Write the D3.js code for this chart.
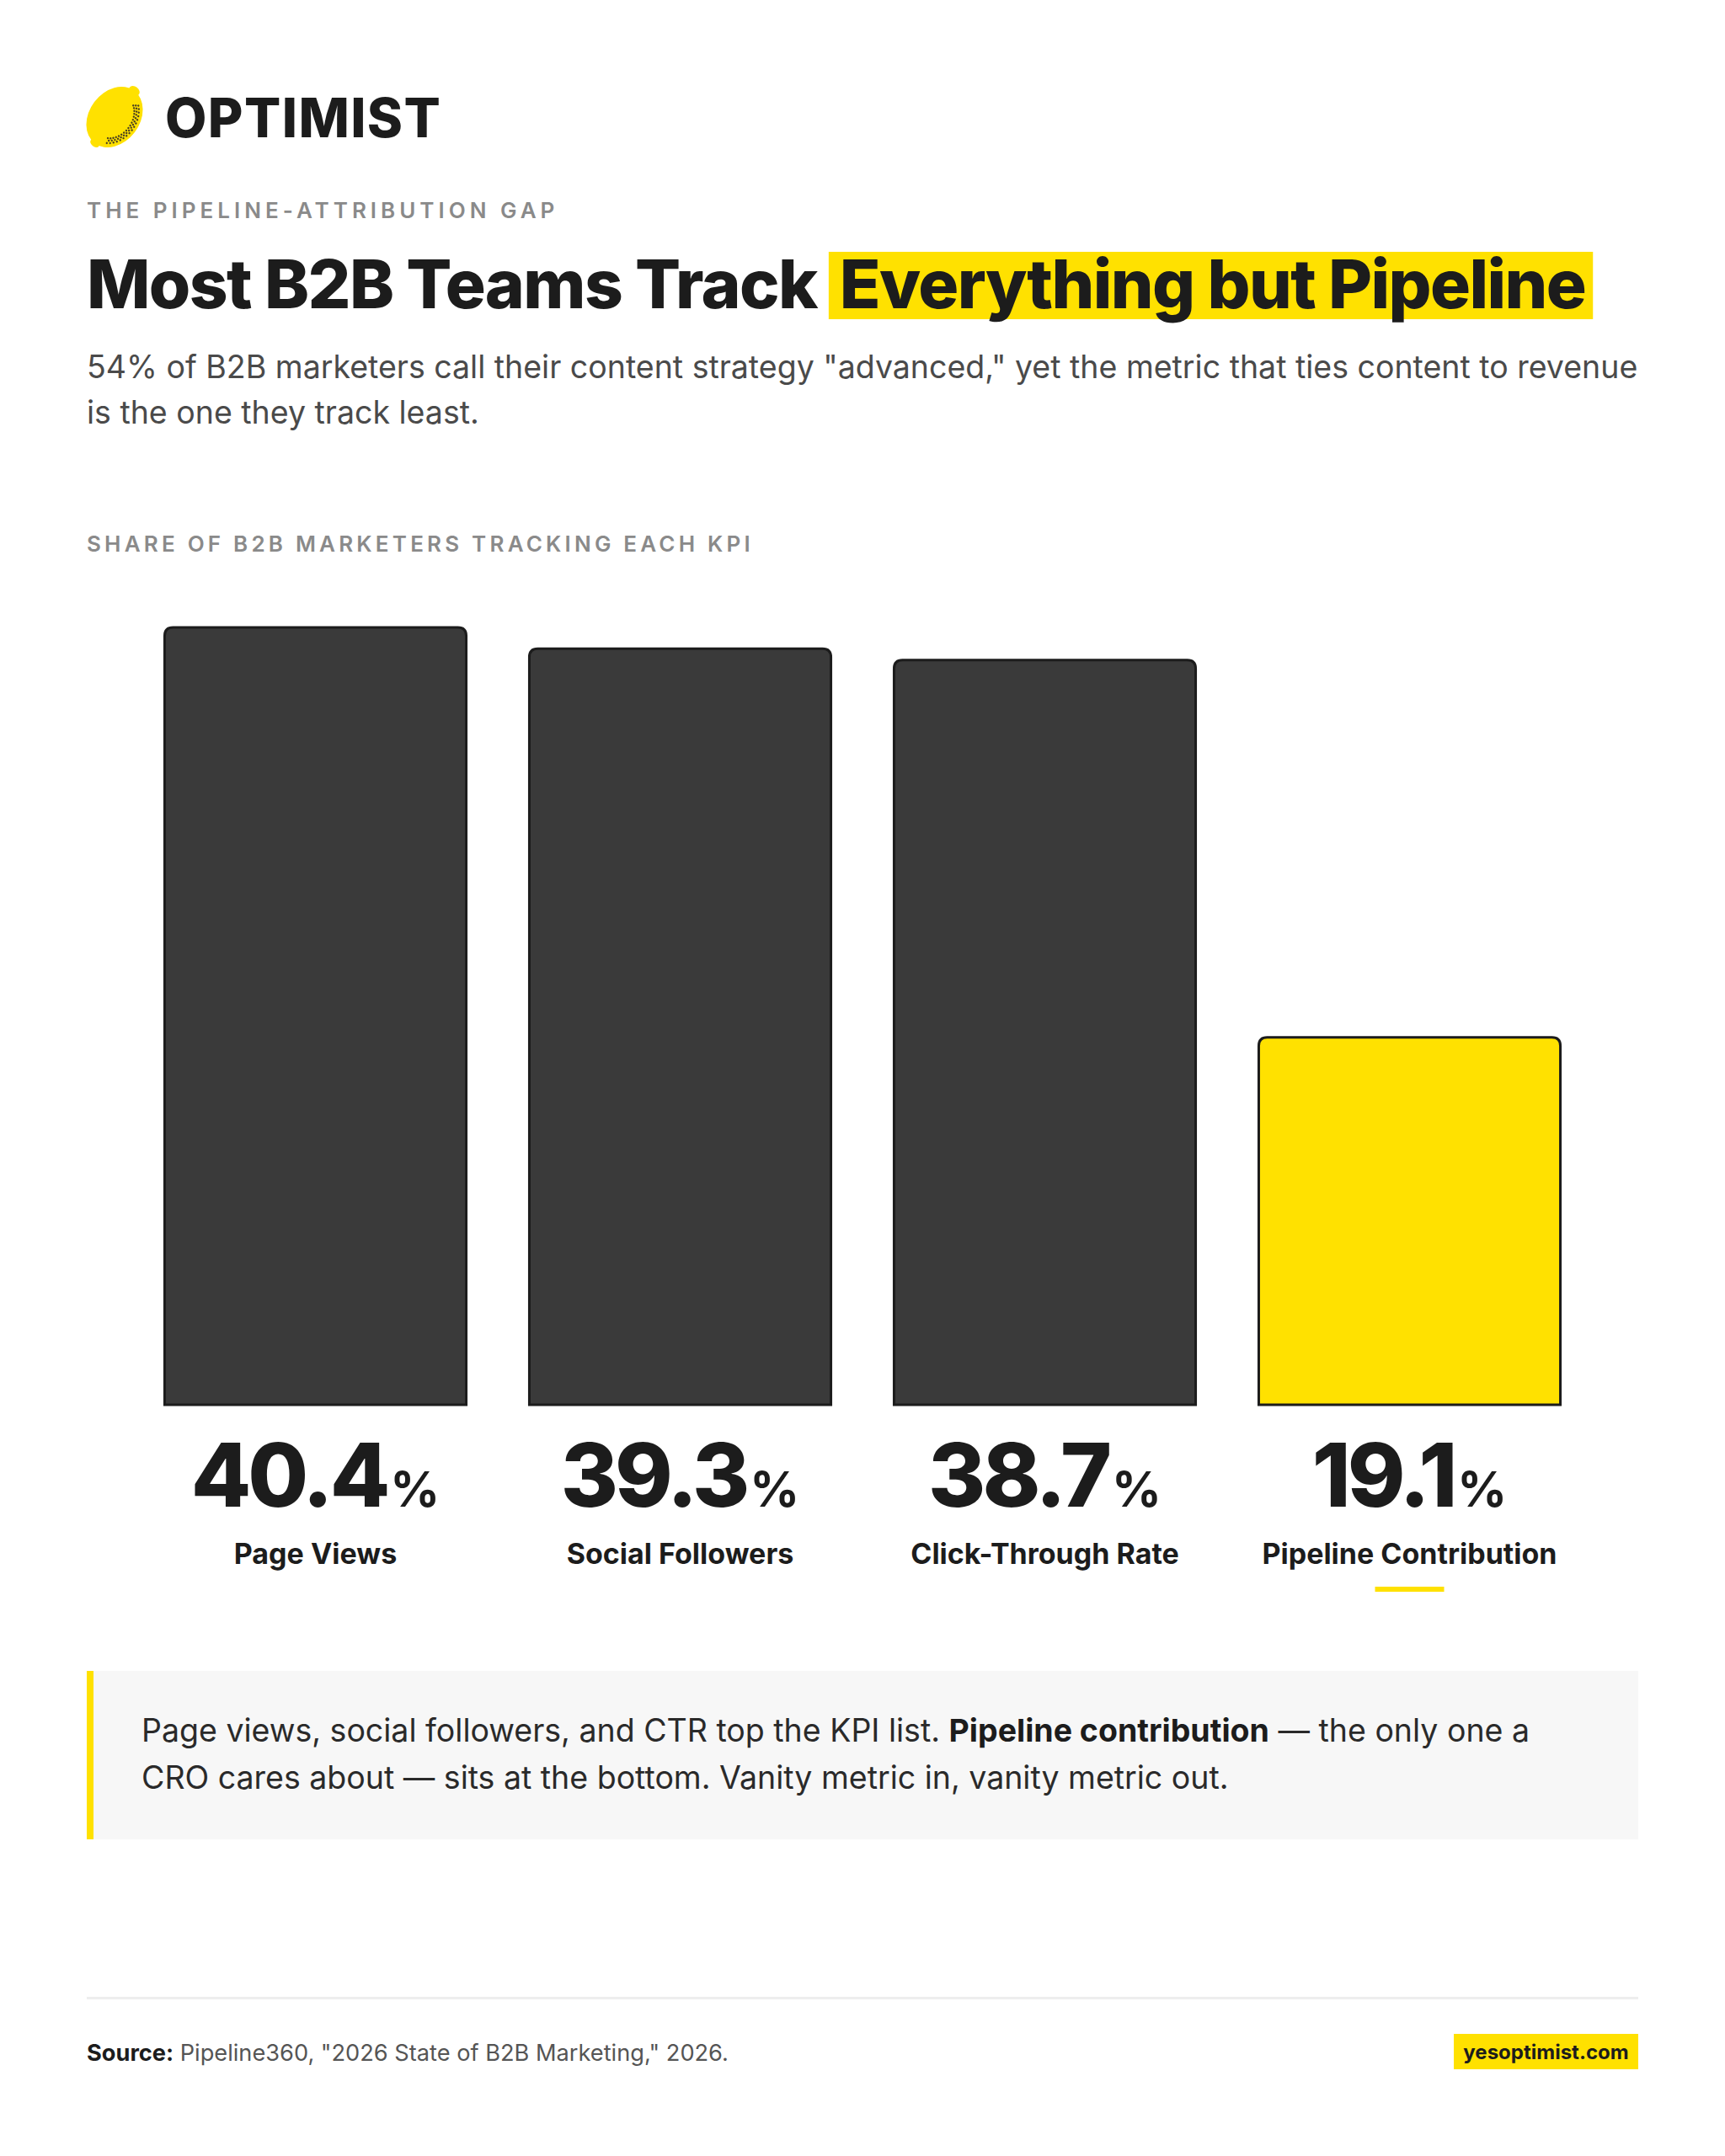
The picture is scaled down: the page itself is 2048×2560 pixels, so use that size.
<!DOCTYPE html>
<html>
<head>
<meta charset="utf-8">
<script src="https://cdn.jsdelivr.net/npm/d3@7"></script>
<style>
  body { margin: 0; background: #fff; }
  svg { display: block; font-family: Inter, "Noto Sans", sans-serif; }
</style>
</head>
<body>
<svg id="drawing_region"></svg>
<script>
// chart data
const categories = ["Page Views", "Social Followers", "Click-Through Rate", "Pipeline Contribution"];
const values = [40.4, 39.3, 38.7, 19.1];
const highlighted = ["Pipeline Contribution"];

const W = 2048, H = 2560;
const left = 103, right = 1945;
const ink = "#1c1c1c", yellow = "#FFE100";

const svg = d3.select("#drawing_region").attr("width", W).attr("height", H);
svg.append("rect").attr("width", W).attr("height", H).attr("fill", "#fff");

// --- logo ---
const logo = svg.append("g").attr("transform", "translate(136,139) rotate(37)");
logo.append("ellipse").attr("rx", 30).attr("ry", 39).attr("fill", yellow);
logo.append("ellipse").attr("cx", 0).attr("cy", -39).attr("rx", 7).attr("ry", 5).attr("fill", yellow);
logo.append("ellipse").attr("cx", 0).attr("cy", 39).attr("rx", 6).attr("ry", 4).attr("fill", yellow);
// stipple dots along the right/bottom edge
[0.7, 0.78, 0.86].forEach((rr, row) => {
  for (let t = -1.1 + row * 0.06; t < 1.15; t += 0.14) {
    logo.append("circle")
      .attr("cx", 30 * rr * Math.cos(t))
      .attr("cy", 39 * rr * Math.sin(t))
      .attr("r", 1.2)
      .attr("fill", "#4a4020");
  }
});
svg.append("text")
  .attr("x", 196).attr("y", 163)
  .attr("font-size", 64).attr("font-weight", 800)
  .attr("letter-spacing", 1.4)
  .attr("fill", ink)
  .text("OPTIMIST");

// --- header ---
svg.append("text")
  .attr("x", left).attr("y", 259)
  .attr("font-size", 26).attr("font-weight", 600)
  .attr("letter-spacing", 5)
  .attr("fill", "#8a8a8a")
  .text("THE PIPELINE-ATTRIBUTION GAP");

const t1 = svg.append("text")
  .attr("x", left).attr("y", 366)
  .attr("font-size", 80).attr("font-weight", 800)
  .attr("letter-spacing", -1.6)
  .attr("fill", ink)
  .text("Most B2B Teams Track");
const t1w = t1.node().getComputedTextLength();
const hlRect = svg.append("rect")
  .attr("y", 299).attr("height", 80)
  .attr("fill", yellow);
const t2 = svg.append("text")
  .attr("x", left + t1w + 27).attr("y", 366)
  .attr("font-size", 80).attr("font-weight", 800)
  .attr("letter-spacing", -1.6)
  .attr("fill", ink)
  .text("Everything but Pipeline");
const t2w = t2.node().getComputedTextLength();
hlRect.attr("x", left + t1w + 14).attr("width", t2w + 22);

const sub = svg.append("text")
  .attr("font-size", 37.5).attr("font-weight", 400)
  .attr("fill", "#4a4a4a");
sub.append("tspan").attr("x", left).attr("y", 449)
  .text("54% of B2B marketers call their content strategy \"advanced,\" yet the metric that ties content to revenue");
sub.append("tspan").attr("x", left).attr("y", 503)
  .text("is the one they track least.");

svg.append("text")
  .attr("x", left).attr("y", 655)
  .attr("font-size", 26).attr("font-weight", 600)
  .attr("letter-spacing", 4.2)
  .attr("fill", "#8a8a8a")
  .text("SHARE OF B2B MARKETERS TRACKING EACH KPI");

// --- bars ---
const xscale = d3.scaleBand()
  .domain(categories)
  .range([left, right])
  .paddingInner(0.173)
  .paddingOuter(0.2135);

const yscale = d3.scaleLinear()
  .domain([0, d3.max(values)])
  .range([1668, 745]);

const data = categories.map((c, i) => ({ cat: c, val: values[i], hi: highlighted.includes(c) }));

function topRounded(x, y, w, h, r) {
  return `M${x},${y + h} L${x},${y + r} Q${x},${y} ${x + r},${y} L${x + w - r},${y} Q${x + w},${y} ${x + w},${y + r} L${x + w},${y + h} Z`;
}

const chart = svg.append("g");
chart.selectAll("path.bar")
  .data(data)
  .enter()
  .append("path")
  .attr("class", "bar")
  .attr("d", d => topRounded(xscale(d.cat), yscale(d.val), xscale.bandwidth(), yscale(0) - yscale(d.val), 10))
  .attr("fill", d => d.hi ? yellow : "#3a3a3a")
  .attr("stroke", ink)
  .attr("stroke-width", 3);

const valText = chart.selectAll("text.val")
  .data(data)
  .enter()
  .append("text")
  .attr("class", "val")
  .attr("x", d => xscale(d.cat) + xscale.bandwidth() / 2)
  .attr("y", 1789)
  .attr("text-anchor", "middle")
  .attr("fill", ink);
valText.append("tspan")
  .attr("font-size", 104).attr("font-weight", 800)
  .attr("letter-spacing", -4)
  .text(d => d.val.toFixed(1));
valText.append("tspan")
  .attr("dx", 4)
  .attr("font-size", 58).attr("font-weight", 700)
  .text("%");

chart.selectAll("text.cat")
  .data(data)
  .enter()
  .append("text")
  .attr("class", "cat")
  .attr("x", d => xscale(d.cat) + xscale.bandwidth() / 2)
  .attr("y", 1857)
  .attr("text-anchor", "middle")
  .attr("font-size", 34).attr("font-weight", 700)
  .attr("fill", ink)
  .text(d => d.cat);

chart.selectAll("rect.mark")
  .data(data.filter(d => d.hi))
  .enter()
  .append("rect")
  .attr("class", "mark")
  .attr("x", d => xscale(d.cat) + xscale.bandwidth() / 2 - 41)
  .attr("y", 1884)
  .attr("width", 82).attr("height", 6)
  .attr("fill", yellow);

// --- callout ---
svg.append("rect")
  .attr("x", left).attr("y", 1984)
  .attr("width", right - left).attr("height", 200)
  .attr("fill", "#f7f7f7");
svg.append("rect")
  .attr("x", left).attr("y", 1984)
  .attr("width", 8).attr("height", 200)
  .attr("fill", yellow);

const note = svg.append("text")
  .attr("font-size", 37.5).attr("fill", "#2a2a2a");
const l1 = note.append("tspan").attr("x", 168).attr("y", 2068);
l1.append("tspan").text("Page views, social followers, and CTR top the KPI list. ");
l1.append("tspan").attr("font-weight", 700).attr("fill", ink).text("Pipeline contribution");
l1.append("tspan").text(" \u2014 the only one a");
note.append("tspan").attr("x", 168).attr("y", 2124)
  .text("CRO cares about \u2014 sits at the bottom. Vanity metric in, vanity metric out.");

// --- footer ---
svg.append("rect")
  .attr("x", left).attr("y", 2371)
  .attr("width", right - left).attr("height", 3)
  .attr("fill", "#eeeeee");

const src = svg.append("text")
  .attr("x", left).attr("y", 2447)
  .attr("font-size", 27.2).attr("fill", "#555");
src.append("tspan").attr("font-weight", 700).attr("fill", ink).text("Source:");
src.append("tspan").text(" Pipeline360, \"2026 State of B2B Marketing,\" 2026.");

svg.append("rect")
  .attr("x", 1726).attr("y", 2415)
  .attr("width", right - 1726).attr("height", 42)
  .attr("fill", yellow);
svg.append("text")
  .attr("x", (1726 + right) / 2).attr("y", 2445)
  .attr("text-anchor", "middle")
  .attr("font-size", 24).attr("font-weight", 700)
  .attr("fill", ink)
  .text("yesoptimist.com");
</script>
</body>
</html>
